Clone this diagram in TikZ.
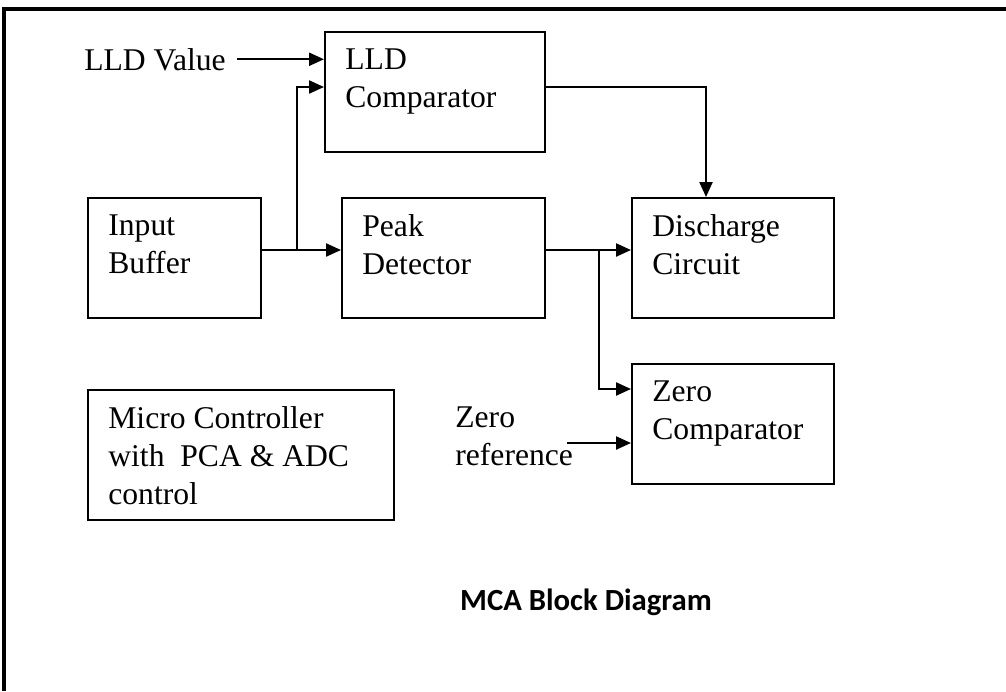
\documentclass[tikz,border=0pt]{standalone}
\usepackage{fontspec}
\setmainfont{Liberation Serif}
\newfontfamily\titlefont{Carlito}
\usetikzlibrary{arrows.meta,calc}

\begin{document}
\begin{tikzpicture}[x=0.02cm, y=-0.02cm,
  blk/.style={draw, line width=1.2pt, inner sep=0pt, anchor=north west},
  lbl/.style={align=left, inner sep=0pt, anchor=north west, font=\fontsize{18}{21.6}\selectfont},
  arr/.style={line width=1.3pt, -{Triangle[length=0.3cm, width=0.26cm]}}]
\useasboundingbox (0,0) rectangle (1006,691);
% frame
\draw[line width=1.8pt] (4,691) -- (4,9) -- (1006,9);
% blocks
\node[blk, minimum width=4.4cm, minimum height=2.4cm] (lld) at (324,31) {};
\node[blk, minimum width=3.46cm, minimum height=2.4cm] (ib) at (87,197) {};
\node[blk, minimum width=4.06cm, minimum height=2.4cm] (pd) at (341,197) {};
\node[blk, minimum width=4.04cm, minimum height=2.4cm] (dc) at (631,197) {};
\node[blk, minimum width=4.04cm, minimum height=2.4cm] (zc) at (631,363) {};
\node[blk, minimum width=6.12cm, minimum height=2.6cm] (mc) at (87,389) {};
% block texts
\node[lbl] (lldtxt) at ($(lld.north west)+(21,17)$) {LLD\\Comparator};
\node[lbl] (ibtxt) at ($(ib.north west)+(21,17)$) {Input\\Buffer};
\node[lbl] (pdtxt) at ($(pd.north west)+(21,17)$) {Peak\\Detector};
\node[lbl] (dctxt) at ($(dc.north west)+(21,17)$) {Discharge\\Circuit};
\node[lbl] (zctxt) at ($(zc.north west)+(21,17)$) {Zero\\Comparator};
\node[lbl] (mctxt) at ($(mc.north west)+(21,17)$) {Micro Controller\\with~~PCA \& ADC\\control};
% inputs
\node[lbl, anchor=base west] (lldval) at (84,70) {LLD Value};
\node[lbl] (zref) at (455,406) {Zero\\reference};
\node[font=\titlefont\bfseries\fontsize{17.5}{21}\selectfont] (title) at (586,602) {MCA Block Diagram};
% joints
\coordinate (ja) at (297,250);
\coordinate (jb) at (599,250);
\coordinate (lldin) at (324,87);
\coordinate (dctop) at (706,197);
\coordinate (zcin) at (631,389);
\coordinate (zrout) at (567,443);
% connectors
\draw[arr] ([xshift=0.22cm]lldval.east) -- (lldval.east -| lld.west);
\draw[line width=1.3pt] (ib.east |- ja) -- (ja);
\draw[arr] (ja) -- (pd.west |- ja);
\draw[arr] (ja) |- (lldin);
\draw[arr] (lld.east |- lldin) -| (dctop);
\draw[arr] (pd.east |- jb) -- (dc.west |- jb);
\draw[arr] (jb) |- (zcin);
\draw[arr] (zrout) -- (zc.west |- zrout);
\end{tikzpicture}
\end{document}
